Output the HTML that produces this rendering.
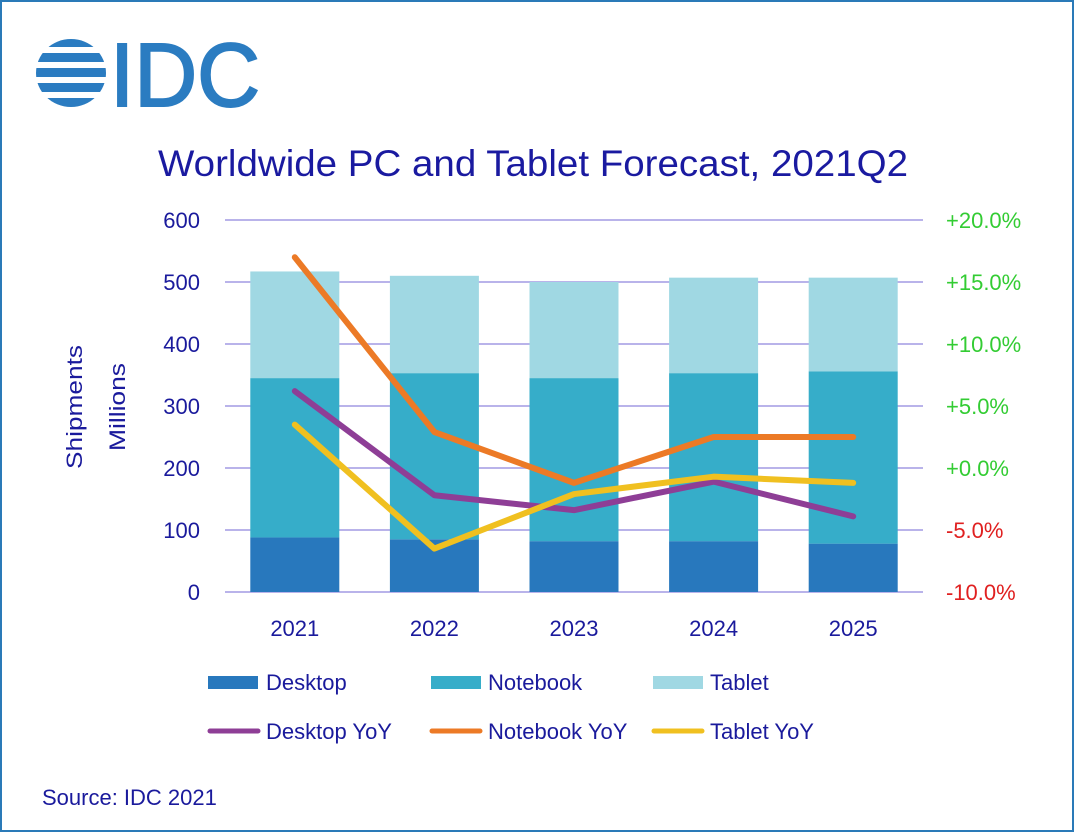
<!DOCTYPE html>
<html><head><meta charset="utf-8"><style>
html,body{margin:0;padding:0;background:#fff}
svg{display:block}
text{font-family:"Liberation Sans","DejaVu Sans",sans-serif}
</style></head><body>
<svg id="c" width="1074" height="832" viewBox="0 0 1074 832">
<rect x="1" y="1" width="1072" height="830" fill="#fff" stroke="#2a7ab8" stroke-width="2"/>
<g>
  <defs><clipPath id="lc"><ellipse cx="71" cy="73" rx="35" ry="34"/></clipPath></defs>
  <g clip-path="url(#lc)" fill="#2b7cc1">
    <rect x="30" y="39" width="80" height="8"/>
    <rect x="30" y="53" width="80" height="9"/>
    <rect x="30" y="68" width="80" height="9"/>
    <rect x="30" y="83" width="80" height="9"/>
    <rect x="30" y="98" width="80" height="9"/>
  </g>
  <text x="110" y="106" font-size="90" fill="#2b7cc1" stroke="#2b7cc1" stroke-width="2" textLength="150" lengthAdjust="spacingAndGlyphs">IDC</text>
</g>
<text x="158" y="176" font-size="37" fill="#1a1aa0" textLength="750" lengthAdjust="spacingAndGlyphs">Worldwide PC and Tablet Forecast, 2021Q2</text>
<g id="grid"></g>
<g id="bars"></g>
<g id="lines"></g>
<g id="axes"></g>
<text transform="translate(82,407) rotate(-90)" text-anchor="middle" font-size="22" fill="#1a1a9c" textLength="124" lengthAdjust="spacingAndGlyphs">Shipments</text>
<text transform="translate(125,407) rotate(-90)" text-anchor="middle" font-size="22" fill="#1a1a9c" textLength="88" lengthAdjust="spacingAndGlyphs">Millions</text>
<g>
  <rect x="208" y="676" width="50" height="13" fill="#2878bd"/>
  <text x="266" y="690" font-size="22" fill="#1a1a9c">Desktop</text>
  <rect x="431" y="676" width="50" height="13" fill="#36adc9"/>
  <text x="488" y="690" font-size="22" fill="#1a1a9c">Notebook</text>
  <rect x="653" y="676" width="50" height="13" fill="#a0d8e3"/>
  <text x="710" y="690" font-size="22" fill="#1a1a9c">Tablet</text>
  <line x1="210" y1="731" x2="258" y2="731" stroke="#8e3e96" stroke-width="5" stroke-linecap="round"/>
  <text x="266" y="739" font-size="22" fill="#1a1a9c">Desktop YoY</text>
  <line x1="432" y1="731" x2="480" y2="731" stroke="#ec7a26" stroke-width="5" stroke-linecap="round"/>
  <text x="488" y="739" font-size="22" fill="#1a1a9c">Notebook YoY</text>
  <line x1="654" y1="731" x2="702" y2="731" stroke="#f0c020" stroke-width="5" stroke-linecap="round"/>
  <text x="710" y="739" font-size="22" fill="#1a1a9c">Tablet YoY</text>
</g>
<text x="42" y="805" font-size="22" fill="#1a1a9c">Source: IDC 2021</text>
</svg>
<script>
const years = ["2021","2022","2023","2024","2025"];
const desktop = [88, 85, 82, 82, 78];
const notebook = [257, 268, 263, 271, 278];
const tablet = [172, 157, 155, 154, 151];
const desktopYoY = [6.2, -2.2, -3.4, -1.1, -3.9];
const notebookYoY = [17.0, 2.9, -1.2, 2.5, 2.5];
const tabletYoY = [3.5, -6.5, -2.1, -0.7, -1.2];
const leftTicks = [0, 100, 200, 300, 400, 500, 600];
const rightTicks = [-10, -5, 0, 5, 10, 15, 20];
const rightLabels = ["-10.0%","-5.0%","+0.0%","+5.0%","+10.0%","+15.0%","+20.0%"];

const NS = "http://www.w3.org/2000/svg";
const X0 = 225, X1 = 923, Y0 = 592, Y1 = 220;
const band = (X1 - X0) / years.length;
const xc = i => X0 + band * (i + 0.5);
const yL = v => Y0 - (v / 600) * (Y0 - Y1);
const yR = v => Y0 - ((v + 10) / 30) * (Y0 - Y1);
function mk(tag, attrs, parent) {
  const e = document.createElementNS(NS, tag);
  for (const k in attrs) e.setAttribute(k, attrs[k]);
  document.getElementById(parent).appendChild(e);
  return e;
}
leftTicks.forEach((t) => {
  const l = mk("line", {x1: X0, x2: X1, y1: yL(t), y2: yL(t), stroke: "#b9b3ea", "stroke-width": 2}, "grid");
  
  
  const tx = mk("text", {x: 200, y: yL(t) + 8, "text-anchor": "end", "font-size": 22, fill: "#1a1a9c"}, "axes");
  tx.textContent = t;
  
  
});
rightTicks.forEach((t, i) => {
  const tx = mk("text", {x: 946, y: yR(t) + 8, "font-size": 22, fill: t < 0 ? "#e02020" : "#33cc33"}, "axes");
  tx.textContent = rightLabels[i];
  
  
});
const bw = 89;
years.forEach((yr, i) => {
  const x = xc(i) - bw / 2;
  let base = 0;
  [[desktop, "#2878bd", "bar-desktop"], [notebook, "#36adc9", "bar-notebook"], [tablet, "#a0d8e3", "bar-tablet"]].forEach(([arr, col, nm]) => {
    const top = base + arr[i];
    const r = mk("rect", {x: x, y: yL(top), width: bw, height: yL(base) - yL(top), fill: col}, "bars");
    
    
    base = top;
  });
  const tx = mk("text", {x: xc(i), y: 636, "text-anchor": "middle", "font-size": 22, fill: "#1a1a9c"}, "axes");
  tx.textContent = yr;
  
  
});
[[notebookYoY, "#ec7a26", "notebook-yoy-line"], [desktopYoY, "#8e3e96", "desktop-yoy-line"], [tabletYoY, "#f0c020", "tablet-yoy-line"]].forEach(([arr, col, nm]) => {
  const pts = arr.map((v, i) => xc(i) + "," + yR(v)).join(" ");
  const p = mk("polyline", {points: pts, fill: "none", stroke: col, "stroke-width": 6, "stroke-linecap": "round", "stroke-linejoin": "round"}, "lines");
  
  
});
</script>
</body></html>
